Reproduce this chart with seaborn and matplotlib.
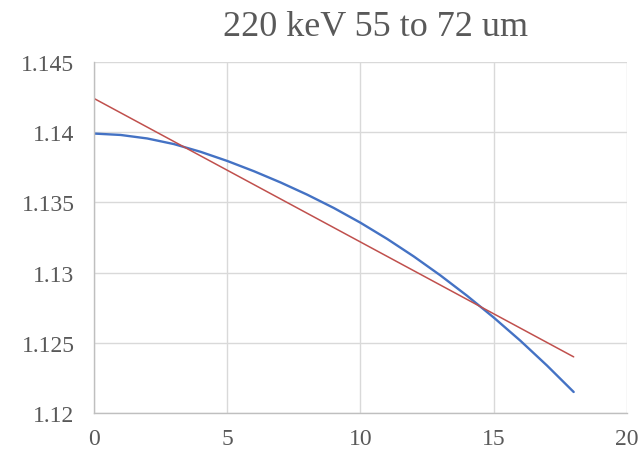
import matplotlib
matplotlib.use("Agg")
import matplotlib.pyplot as plt
import numpy as np
import pandas as pd
import seaborn as sns

# blue curve at integer x
depth = [0, 1, 2, 3, 4, 5, 6, 7, 8, 9, 10, 11, 12, 13, 14, 15, 16, 17, 18]
ratio = [1.13990, 1.13980, 1.13955, 1.13915, 1.13860, 1.13795, 1.13722,
         1.13642, 1.13555, 1.13460, 1.13355, 1.13240, 1.13115, 1.12980,
         1.12835, 1.12680, 1.12515, 1.12338, 1.12150]

# linear trendline end points
trend_x = [0, 18]
trend_y = [1.1424, 1.1240]

title = "220 keV 55 to 72 um"
x_ticks = [0, 5, 10, 15, 20]
y_ticks = [1.12, 1.125, 1.13, 1.135, 1.14, 1.145]
y_labels = ["1.12", "1.125", "1.13", "1.135", "1.14", "1.145"]

df = pd.DataFrame({'x': depth, 'y': ratio})
df_trend = pd.DataFrame({'x': trend_x, 'y': trend_y})

sns.set_style("whitegrid")
plt.rcParams['font.family'] = ['Liberation Serif', 'DejaVu Serif']

fig = plt.figure(figsize=(6.42, 4.56), dpi=100)
ax = fig.add_axes([0.1464, 0.092, 0.8302, 0.770])

sns.lineplot(x='x', y='y', data=df, ax=ax, color='#4472C4', linewidth=1.7)
sns.lineplot(x='x', y='y', data=df_trend, ax=ax, color='#C0504D', linewidth=1.1)

ax.set_xlim(0, 20)
ax.set_ylim(1.12, 1.145)
ax.set_xticks(x_ticks)
ax.set_xticklabels([str(t) for t in x_ticks])
ax.set_yticks(y_ticks)
ax.set_yticklabels(y_labels)
ax.set_xlabel('')
ax.set_ylabel('')

ax.grid(True, color='#d9d9d9', linewidth=1.0)
ax.tick_params(axis='both', length=0, labelsize=17, colors='#595959')
ax.tick_params(axis='y', pad=14)
ax.tick_params(axis='x', pad=11)
for side in ['top', 'right']:
    ax.spines[side].set_visible(False)
for side in ['left', 'bottom']:
    ax.spines[side].set_color('#bfbfbf')
    ax.spines[side].set_linewidth(1.0)

fig.text(0.585, 0.94, title, ha='center', va='center', fontsize=26, color='#595959')

fig.savefig('out.png', dpi=100)
